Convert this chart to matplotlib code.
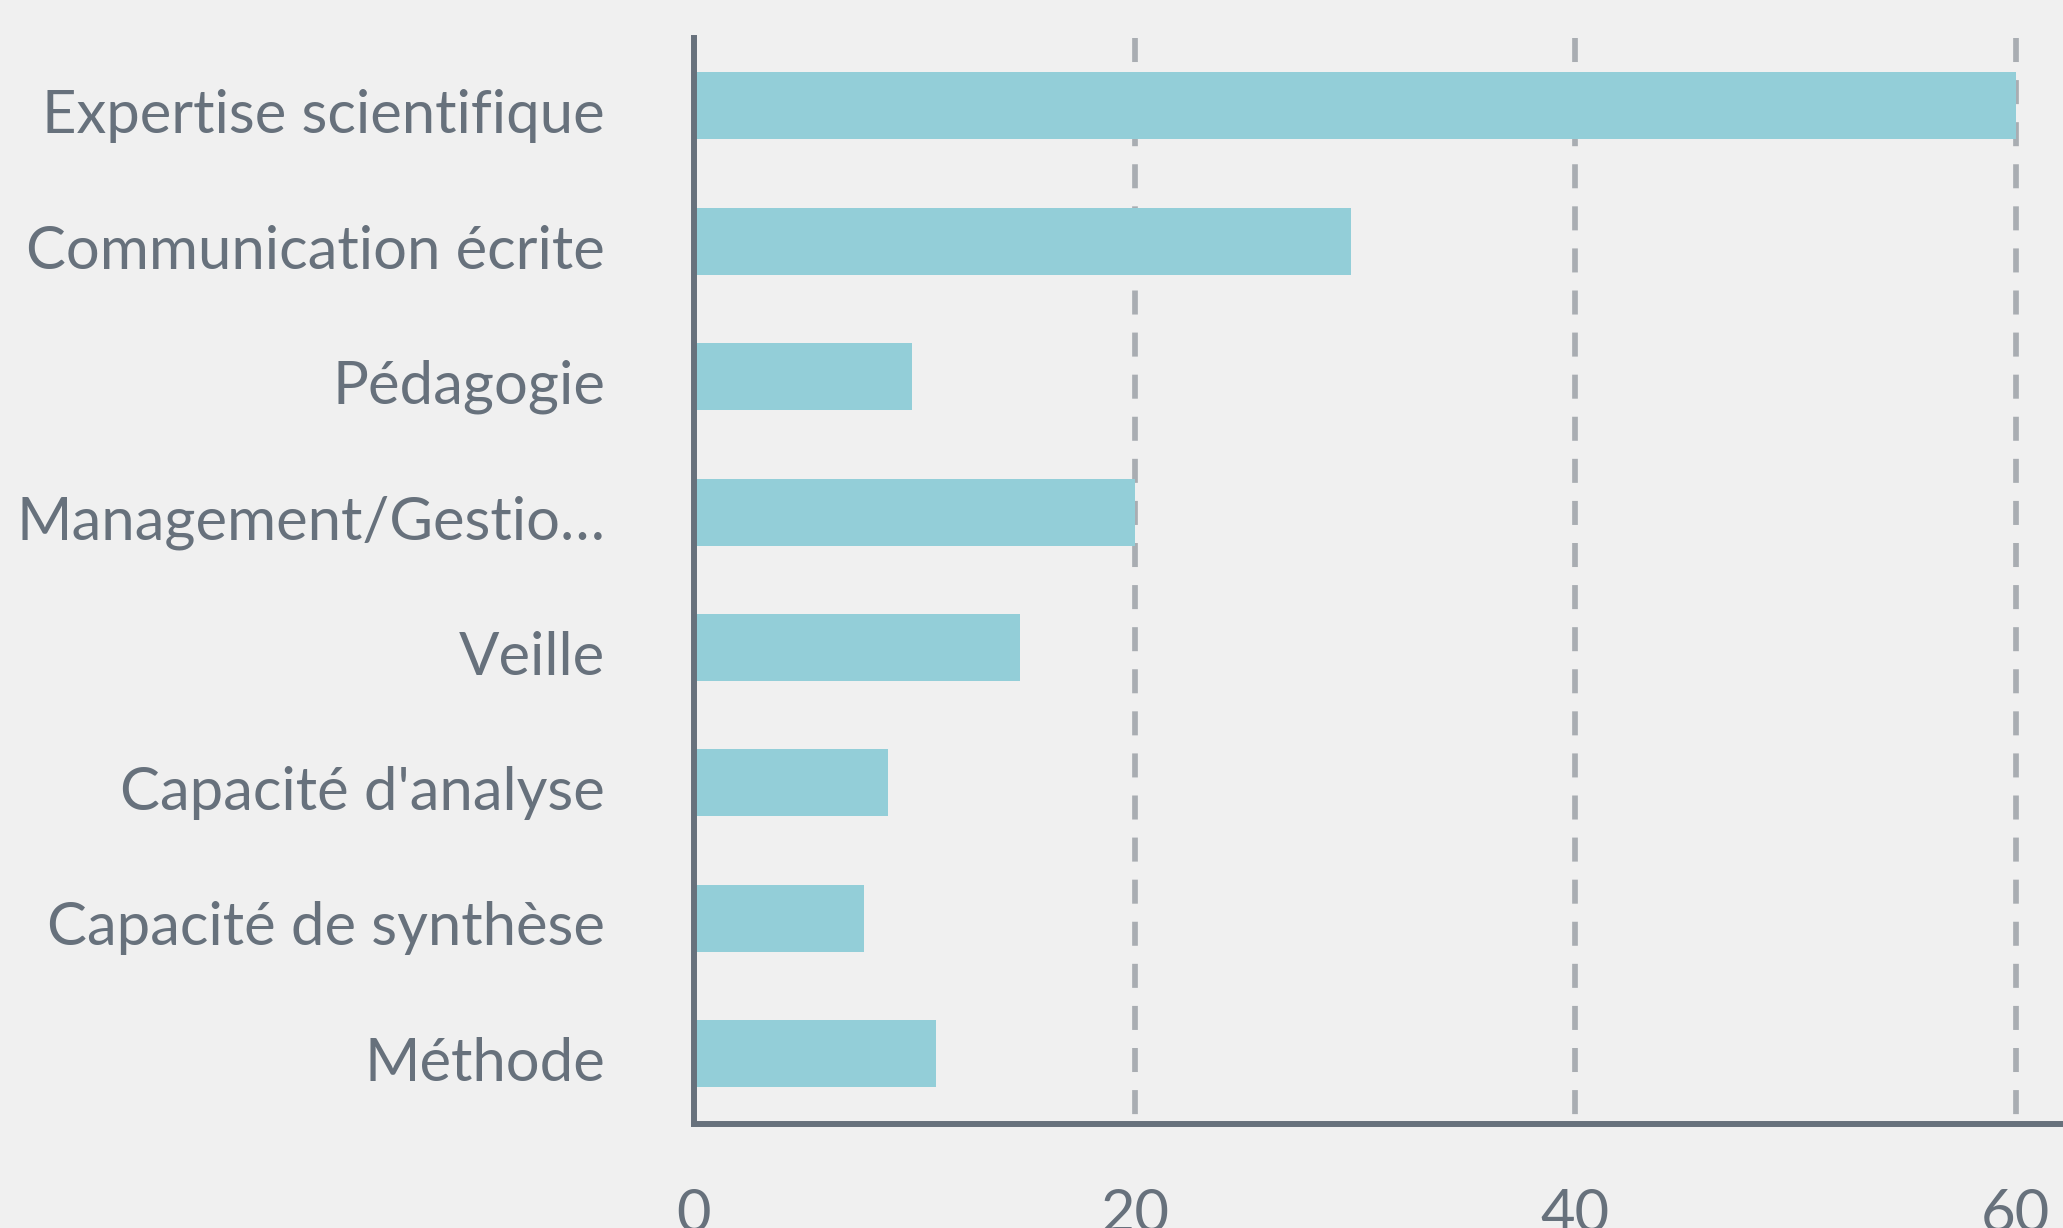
import numpy as np
import matplotlib
matplotlib.use('Agg')
import matplotlib.pyplot as plt
from matplotlib.transforms import ScaledTranslation

## chart data
categories = ['Expertise scientifique', 'Communication écrite', 'Pédagogie',
              'Management/Gestio…', 'Veille', "Capacité d'analyse",
              'Capacité de synthèse', 'Méthode']
values = [60, 29.8, 9.9, 20, 14.8, 8.8, 7.7, 11.0]
xticks = [0, 20, 40, 60]

bg = '#f0f0f0'
txt = '#67717c'
bar_col = '#93ced8'
grid_col = '#a9adb2'

plt.rcParams['font.family'] = ['Lato', 'DejaVu Sans']
plt.rcParams['lines.scale_dashes'] = False

fig = plt.figure(figsize=(20.63, 12.28), dpi=100, facecolor=bg)
ax = fig.add_axes([0.3364, 0.0849, 0.6636, 0.8839])
ax.set_facecolor(bg)

ypos = np.arange(len(categories))
ax.barh(ypos, values, height=0.495, color=bar_col, zorder=2)

ax.set_xlim(0, 62.14)
ax.set_ylim(7.52, -0.50)
ax.set_yticks(ypos)
ax.set_yticklabels(categories)
ax.set_xticks(xticks)
ax.set_xticklabels([str(v) for v in xticks])

ax.tick_params(axis='y', length=0, pad=64, labelsize=43, labelcolor=txt)
ax.tick_params(axis='x', length=0, pad=46, labelsize=43, labelcolor=txt)

# nudge category labels a little downwards
shift = ScaledTranslation(0, -5.3 / 100, fig.dpi_scale_trans)
for lab in ax.get_yticklabels():
    lab.set_transform(lab.get_transform() + shift)

# dashed vertical grid, dashes starting from the top
for v in xticks[1:]:
    ax.axvline(v, ymin=1, ymax=0, color=grid_col, linewidth=4.1,
               linestyle=(0, (17.3, 13)), zorder=1)

for s in ['top', 'right']:
    ax.spines[s].set_visible(False)
for s in ['left', 'bottom']:
    ax.spines[s].set_color(txt)
    ax.spines[s].set_linewidth(4.3)
    ax.spines[s].set_zorder(3)

fig.savefig('out.png', dpi=100, facecolor=bg)
